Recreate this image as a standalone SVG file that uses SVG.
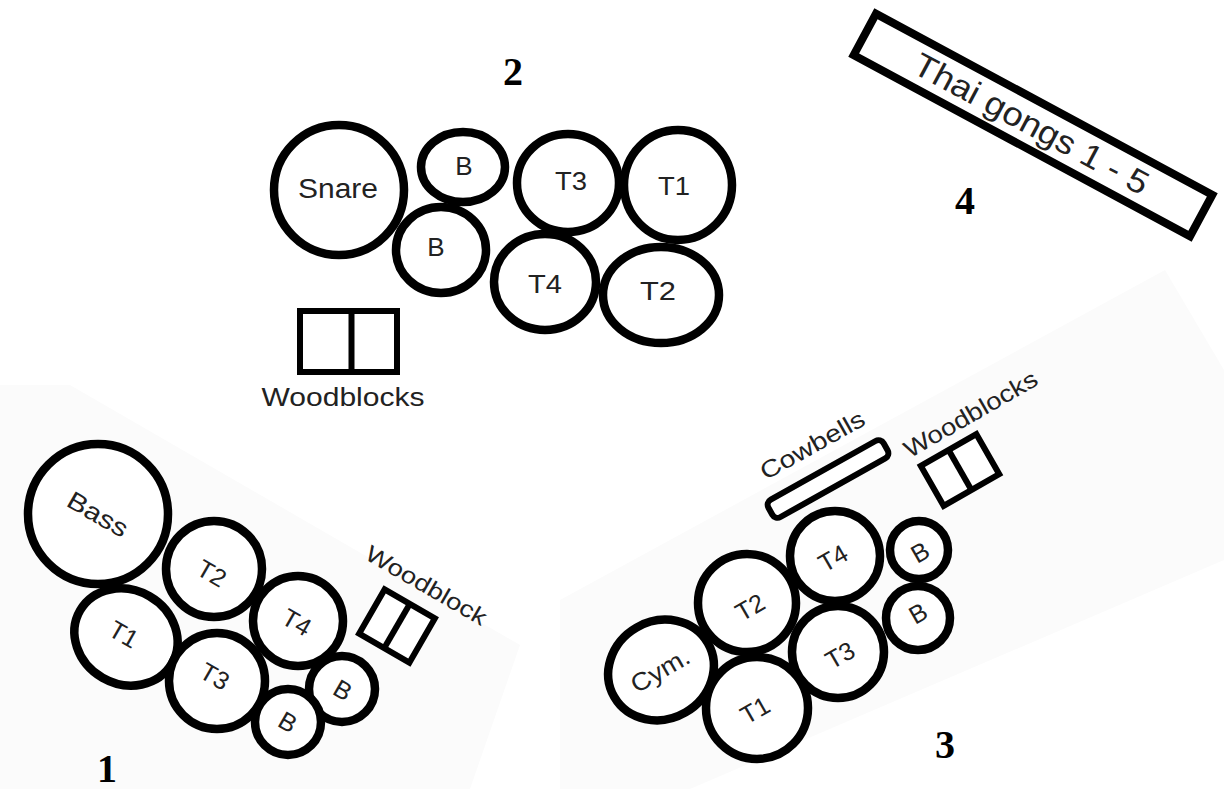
<svg xmlns="http://www.w3.org/2000/svg" width="1224" height="789" viewBox="0 0 1224 789">
<style>
.bg{fill:#fbfbfb;stroke:none}
.d{fill:#fff;stroke:#000;stroke-width:8.5}
.r{fill:#fff;stroke:#000;stroke-width:6}
.l{fill:none;stroke:#000;stroke-width:6}
.t{font-family:"Liberation Sans",Arial,sans-serif;fill:#222;text-anchor:middle}
.n{font-family:"Liberation Serif","Times New Roman",serif;font-weight:bold;font-size:40px;fill:#000;text-anchor:middle}
</style>
<rect width="1224" height="789" fill="#fff"/>
<polygon class="bg" points="0,385 70,385 520,645 470,789 0,789"/>
<polygon class="bg" points="560,600 1165,270 1224,370 1224,560 690,789 560,789"/>

<g id="setup1">
  <g id="s1-bass"><circle class="d" cx="98" cy="514" r="70"/><text class="t" font-size="25" textLength="66" lengthAdjust="spacingAndGlyphs" transform="translate(98,514) rotate(30)" y="9">Bass</text></g>
  <g id="s1-t2"><circle class="d" cx="214" cy="569" r="48"/><text class="t" font-size="25" transform="translate(212,573) rotate(30)" y="9">T2</text></g>
  <g id="s1-t1"><ellipse class="d" cx="126" cy="637" rx="53" ry="47" transform="rotate(30 126 637)"/><text class="t" font-size="25" transform="translate(124,634) rotate(30)" y="9">T1</text></g>
  <g id="s1-t4"><circle class="d" cx="298" cy="621" r="45"/><text class="t" font-size="25" transform="translate(297,622) rotate(30)" y="9">T4</text></g>
  <g id="s1-t3"><circle class="d" cx="217" cy="681" r="48"/><text class="t" font-size="25" transform="translate(215,676) rotate(30)" y="9">T3</text></g>
  <g id="s1-b1"><circle class="d" cx="342" cy="689" r="33"/><text class="t" font-size="25" transform="translate(343,690) rotate(30)" y="9">B</text></g>
  <g id="s1-b2"><circle class="d" cx="288" cy="722" r="33"/><text class="t" font-size="25" transform="translate(288,722) rotate(30)" y="9">B</text></g>
  <g id="s1-woodblock" transform="translate(397,626) rotate(30)">
    <rect class="r" x="-29" y="-25.5" width="58" height="51"/>
    <line class="l" x1="0" y1="-25.5" x2="0" y2="25.5"/>
    <text class="t" font-size="23" textLength="136" lengthAdjust="spacingAndGlyphs" x="5" y="-42">Woodblock</text>
  </g>
  <text class="n" x="107" y="782">1</text>
</g>

<g id="setup2">
  <g id="s2-snare"><circle class="d" cx="339" cy="190" r="65"/><text class="t" font-size="27" textLength="80" lengthAdjust="spacingAndGlyphs" x="338" y="198">Snare</text></g>
  <g id="s2-b1"><ellipse class="d" cx="463" cy="167" rx="42" ry="35"/><text class="t" font-size="26" x="464" y="175">B</text></g>
  <g id="s2-b2"><ellipse class="d" cx="441" cy="250" rx="45" ry="43"/><text class="t" font-size="26" x="436" y="256">B</text></g>
  <g id="s2-t3"><ellipse class="d" cx="568" cy="183" rx="51" ry="49"/><text class="t" font-size="26" textLength="32" lengthAdjust="spacingAndGlyphs" x="571" y="190">T3</text></g>
  <g id="s2-t1"><ellipse class="d" cx="678" cy="185" rx="54" ry="55"/><text class="t" font-size="26" textLength="32" lengthAdjust="spacingAndGlyphs" x="674" y="195">T1</text></g>
  <g id="s2-t4"><ellipse class="d" cx="545" cy="282" rx="51" ry="48"/><text class="t" font-size="26" textLength="34" lengthAdjust="spacingAndGlyphs" x="545" y="293">T4</text></g>
  <g id="s2-t2"><ellipse class="d" cx="661" cy="295" rx="58" ry="48"/><text class="t" font-size="26" textLength="36" lengthAdjust="spacingAndGlyphs" x="658" y="300">T2</text></g>
  <g id="s2-woodblocks">
    <rect class="r" x="300" y="311" width="97" height="61"/>
    <line class="l" x1="351.5" y1="311" x2="351.5" y2="372"/>
    <text class="t" font-size="25" textLength="163" lengthAdjust="spacingAndGlyphs" x="343" y="406">Woodblocks</text>
  </g>
  <text class="n" x="513" y="85">2</text>
</g>

<g id="setup3">
  <g id="s3-cym"><ellipse class="d" cx="661" cy="670" rx="54" ry="49" transform="rotate(-30 661 670)"/><text class="t" font-size="25" textLength="64" lengthAdjust="spacingAndGlyphs" transform="translate(660,670) rotate(-30)" y="9">Cym.</text></g>
  <g id="s3-t2"><circle class="d" cx="747" cy="603" r="49"/><text class="t" font-size="25" transform="translate(750,607) rotate(-30)" y="9">T2</text></g>
  <g id="s3-t4"><circle class="d" cx="835" cy="556" r="45"/><text class="t" font-size="25" transform="translate(833,558) rotate(-30)" y="9">T4</text></g>
  <g id="s3-b1"><circle class="d" cx="919" cy="550" r="29"/><text class="t" font-size="25" transform="translate(920,552) rotate(-30)" y="9">B</text></g>
  <g id="s3-b2"><circle class="d" cx="918" cy="618" r="32"/><text class="t" font-size="25" transform="translate(918,613) rotate(-30)" y="9">B</text></g>
  <g id="s3-t3"><circle class="d" cx="838" cy="652" r="46"/><text class="t" font-size="25" transform="translate(840,655) rotate(-30)" y="9">T3</text></g>
  <g id="s3-t1"><circle class="d" cx="757" cy="708" r="51"/><text class="t" font-size="25" transform="translate(755,710) rotate(-30)" y="9">T1</text></g>
  <g id="s3-cowbells" transform="translate(828,479) rotate(-29.2)">
    <rect class="r" x="-66" y="-10" width="132" height="20" rx="6"/>
    <text class="t" font-size="24" textLength="116" lengthAdjust="spacingAndGlyphs" x="3" y="-29">Cowbells</text>
  </g>
  <g id="s3-woodblocks" transform="translate(960,470) rotate(-29.8)">
    <rect class="r" x="-32" y="-23" width="64" height="46"/>
    <line class="l" x1="0" y1="-23" x2="0" y2="23"/>
    <text class="t" font-size="24" textLength="150" lengthAdjust="spacingAndGlyphs" x="37" y="-35">Woodblocks</text>
  </g>
  <text class="n" x="945" y="758">3</text>
</g>

<g id="setup4">
  <g id="s4-gongs" transform="translate(1033,125) rotate(28.3)">
    <rect x="-191" y="-23.5" width="382" height="47" fill="#fff" stroke="#000" stroke-width="8"/>
    <text class="t" font-size="33" textLength="262" lengthAdjust="spacingAndGlyphs" x="-2" y="11">Thai gongs 1 - 5</text>
  </g>
  <text class="n" x="965" y="214">4</text>
</g>

<g id="connectors"/>
</svg>
